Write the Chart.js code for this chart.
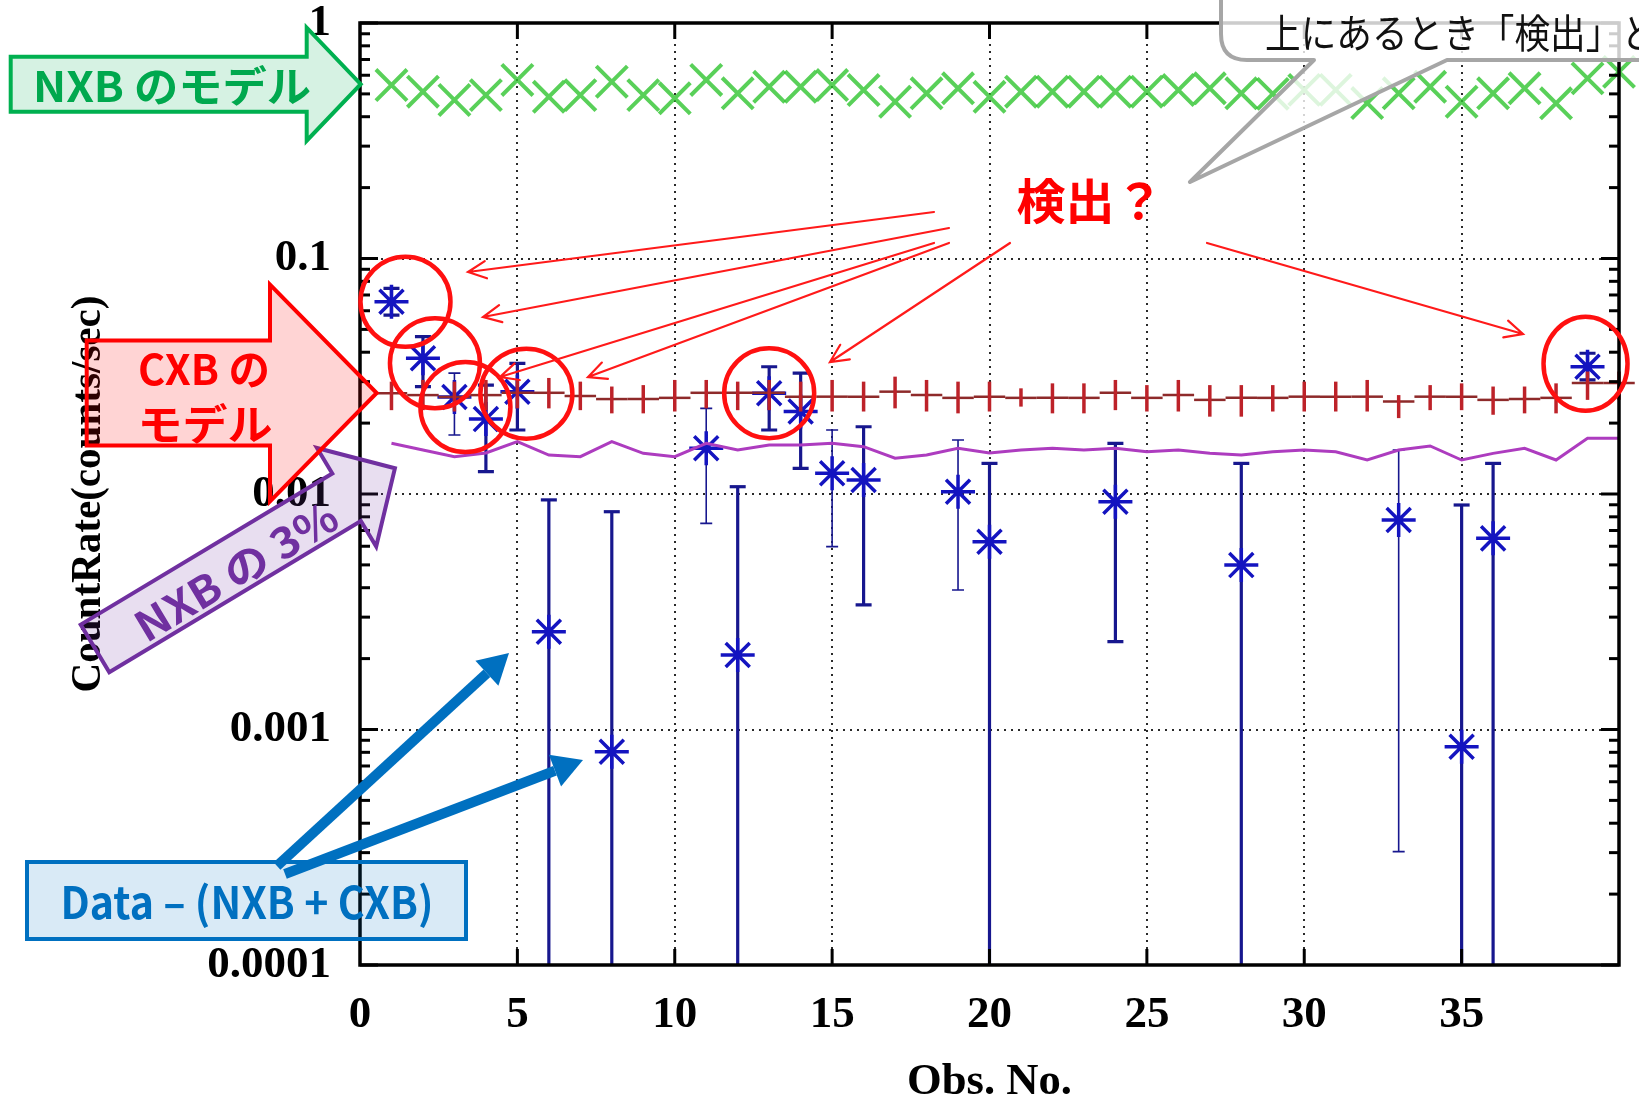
<!DOCTYPE html>
<html>
<head>
<meta charset="utf-8">
<script src="https://cdn.jsdelivr.net/npm/chart.js@4.4.1/dist/chart.umd.min.js"></script>
<style>
  html, body { margin: 0; padding: 0; background: #fff; }
  canvas { display: block; }
</style>
</head>
<body>
<canvas id="c" width="1639" height="1101"></canvas>
<script>
// ---- observation numbers ----
const obsNo = [1,2,3,4,5,6,7,8,9,10,11,12,13,14,15,16,17,18,19,20,
               21,22,23,24,25,26,27,28,29,30,31,32,33,34,35,36,37,38,39,40];

// NXB model count rate (counts/sec)
const nxbModel = [0.545,0.511,0.471,0.494,0.573,0.486,0.494,0.563,0.494,0.479,
                  0.573,0.503,0.536,0.536,0.545,0.519,0.463,0.503,0.528,0.486,
                  0.511,0.511,0.511,0.511,0.511,0.519,0.528,0.503,0.500,0.520,
                  0.520,0.457,0.503,0.536,0.463,0.503,0.528,0.456,0.582,0.620];

// CXB model count rate and its range
const cxbModel = [0.0268,0.0263,0.0258,0.0263,0.0269,0.0269,0.0261,0.0253,0.0253,0.0256,
                  0.0269,0.0269,0.0269,0.0259,0.0259,0.0259,0.0272,0.0263,0.0256,0.0259,
                  0.0256,0.0256,0.0256,0.0269,0.0256,0.0263,0.0251,0.0256,0.0256,0.0259,
                  0.0259,0.0259,0.0247,0.0259,0.0259,0.0251,0.0253,0.0256,0.0296,0.0296];
const cxbHigh  = [0.0300,0.0305,0.0300,0.0305,0.0305,0.0311,0.0300,0.0286,0.0290,0.0305,
                  0.0305,0.0300,0.0305,0.0300,0.0305,0.0300,0.0315,0.0305,0.0300,0.0300,
                  0.0281,0.0295,0.0295,0.0305,0.0290,0.0305,0.0290,0.0290,0.0290,0.0300,
                  0.0300,0.0305,0.0263,0.0290,0.0295,0.0286,0.0286,0.0295,0.0331,0.0331];
const cxbLow   = [0.0227,0.0227,0.0224,0.0227,0.0231,0.0231,0.0227,0.0220,0.0220,0.0224,
                  0.0231,0.0227,0.0227,0.0224,0.0224,0.0224,0.0231,0.0224,0.0220,0.0224,
                  0.0235,0.0220,0.0220,0.0227,0.0224,0.0224,0.0213,0.0213,0.0224,0.0224,
                  0.0224,0.0224,0.0210,0.0227,0.0227,0.0217,0.0220,0.0220,0.0251,0.0251];

// 3% of the NXB model
const nxbThreePct = [0.01642,0.01537,0.01440,0.01493,0.01668,0.01464,0.01440,0.01668,0.01488,0.01440,
                     0.01642,0.01537,0.01615,0.01615,0.01642,0.01589,0.01418,0.01464,0.01563,0.01493,
                     0.01537,0.01563,0.01537,0.01563,0.01512,0.01537,0.01488,0.01464,0.01512,0.01537,
                     0.01512,0.01394,0.01537,0.01600,0.01394,0.01488,0.01563,0.01394,0.01724,0.01724];

// Data - (NXB + CXB); null lower bound = range reaches zero
const dataObs  = [1,2,3,4,5,6,8,11,12,13,14,15,16,19,20,24,28,33,35,36,39];
const dataRate = [0.0655,0.0377,0.0258,0.0208,0.0272,0.00260,0.000805,0.01563,0.00207,0.0268,
                  0.0224,0.01224,0.01146,0.01023,0.00627,0.00927,0.00499,0.00776,0.000845,0.00648,0.0347];
const dataHigh = [0.0747,0.0466,0.0326,0.0290,0.0359,0.00944,0.00841,0.0231,0.01074,0.0347,
                  0.0326,0.0187,0.0193,0.01695,0.01349,0.01642,0.01349,0.01537,0.00898,0.01349,0.0396];
const dataLow  = [0.0575,0.0286,0.0178,0.01244,0.0187,null,null,0.0075,null,0.0187,
                  0.01285,0.00598,0.00338,0.00391,null,0.00236,null,0.000303,null,null,0.0305];

// axis ticks
const xTickValues = [0,5,10,15,20,25,30,35];
const yTickValues = [0.0001,0.001,0.01,0.1,1];
const yTickLabels = ['0.0001','0.001','0.01','0.1','1'];

const SERIF = '"Liberation Serif", "DejaVu Serif", serif';
const JP = '"Noto Sans CJK JP", "Noto Sans", sans-serif';

// observations drawn with the lighter error-bar pen
const thinBars = new Set([3, 11, 15, 19, 33]);

const errorSpecs = {
  'CXB model': {
    low: cxbLow, high: cxbHigh, xHalf: 0.5,
    hColor: '#8e2a2a', hWidth: 2.5,
    vColor: '#bd2229', width: () => 3.5, cap: null
  },
  'Data - (NXB + CXB)': {
    low: dataLow, high: dataHigh, xHalf: 0,
    vColor: '#17178e', width: o => thinBars.has(o) ? 1.6 : 3.2,
    cap: o => thinBars.has(o) ? 6 : 8
  }
};

const errorBarPlugin = {
  id: 'errorBars',
  beforeDatasetDraw(chart, args) {
    const ds = chart.data.datasets[args.index];
    const spec = errorSpecs[ds.label];
    if (!spec) return;
    const { ctx, chartArea: a, scales: { x, y } } = chart;
    ctx.save();
    ctx.beginPath();
    ctx.rect(a.left - 30, a.top, a.right - a.left + 60, a.bottom - a.top);
    ctx.clip();
    ctx.lineCap = 'butt';
    ds.data.forEach((p, i) => {
      const px = x.getPixelForValue(p.x);
      const py = y.getPixelForValue(p.y);
      if (spec.xHalf) {
        ctx.strokeStyle = spec.hColor;
        ctx.lineWidth = spec.hWidth;
        ctx.beginPath();
        ctx.moveTo(x.getPixelForValue(p.x - spec.xHalf), py);
        ctx.lineTo(x.getPixelForValue(p.x + spec.xHalf), py);
        ctx.stroke();
      }
      const lo = spec.low[i], hi = spec.high[i];
      const yTop = y.getPixelForValue(hi);
      const yBot = lo == null ? a.bottom : y.getPixelForValue(lo);
      ctx.strokeStyle = spec.vColor;
      ctx.lineWidth = spec.width(p.x);
      ctx.beginPath();
      ctx.moveTo(px, yTop);
      ctx.lineTo(px, yBot);
      ctx.stroke();
      if (spec.cap) {
        const c = spec.cap(p.x);
        ctx.beginPath();
        ctx.moveTo(px - c, yTop); ctx.lineTo(px + c, yTop);
        if (lo != null) { ctx.moveTo(px - c, yBot); ctx.lineTo(px + c, yBot); }
        ctx.stroke();
      }
    });
    ctx.restore();
  }
};

// dotted grid under the data; border and inward ticks above it
const framePlugin = {
  id: 'frame',
  beforeDatasetsDraw(chart) {
    const { ctx, chartArea: a, scales: { x, y } } = chart;
    ctx.save();
    ctx.setLineDash([2, 5]);
    ctx.lineWidth = 2;
    ctx.strokeStyle = '#2a2a2a';
    xTickValues.filter(v => v > 0).forEach(v => {
      const px = Math.round(x.getPixelForValue(v));
      ctx.beginPath(); ctx.moveTo(px, a.top); ctx.lineTo(px, a.bottom); ctx.stroke();
    });
    yTickValues.filter(v => v > yTickValues[0] && v < 1).forEach(v => {
      const py = Math.round(y.getPixelForValue(v));
      ctx.beginPath(); ctx.moveTo(a.left, py); ctx.lineTo(a.right, py); ctx.stroke();
    });
    ctx.restore();
  },
  afterDatasetsDraw(chart) {
    const { ctx, chartArea: a, scales: { x, y } } = chart;
    ctx.save();
    ctx.strokeStyle = '#000';
    ctx.lineWidth = 3;
    const seg = (x1, y1, x2, y2) => { ctx.beginPath(); ctx.moveTo(x1, y1); ctx.lineTo(x2, y2); ctx.stroke(); };
    // y ticks (major decades + minor 2..9)
    for (let d = 0; d < yTickValues.length; d++) {
      const dec = yTickValues[d];
      const py = y.getPixelForValue(dec);
      seg(a.left, py, a.left + 18, py);
      seg(a.right, py, a.right - 18, py);
      if (dec < 1) {
        for (let k = 2; k <= 9; k++) {
          const pm = y.getPixelForValue(dec * k);
          seg(a.left, pm, a.left + 10, pm);
          seg(a.right, pm, a.right - 10, pm);
        }
      }
    }
    // x ticks
    xTickValues.filter(v => v > 0).forEach(v => {
      const px = x.getPixelForValue(v);
      seg(px, a.bottom, px, a.bottom - 16);
      seg(px, a.top, px, a.top + 16);
    });
    ctx.lineWidth = 3.5;
    ctx.strokeRect(a.left, a.top, a.right - a.left, a.bottom - a.top);
    ctx.restore();
  }
};

function blockArrow(ctx, tx, ty, ang, bodyLen, headLen, bw, hw, fill, stroke) {
  ctx.save();
  ctx.translate(tx, ty);
  ctx.rotate(ang);
  ctx.beginPath();
  ctx.moveTo(0, -bw);
  ctx.lineTo(bodyLen, -bw);
  ctx.lineTo(bodyLen, -hw);
  ctx.lineTo(bodyLen + headLen, 0);
  ctx.lineTo(bodyLen, hw);
  ctx.lineTo(bodyLen, bw);
  ctx.lineTo(0, bw);
  ctx.closePath();
  ctx.fillStyle = fill;
  ctx.fill();
  ctx.lineWidth = 4;
  ctx.lineJoin = 'miter';
  ctx.strokeStyle = stroke;
  ctx.stroke();
  ctx.restore();
}

// text squeezed or stretched horizontally to a given width
function fitText(ctx, txt, cx, cy, width, font, color, angle) {
  ctx.save();
  ctx.font = font;
  ctx.fillStyle = color;
  ctx.textAlign = 'center';
  ctx.textBaseline = 'middle';
  const w = ctx.measureText(txt).width;
  ctx.translate(cx, cy);
  if (angle) ctx.rotate(angle);
  ctx.scale(width / w, 1);
  ctx.fillText(txt, 0, 0);
  ctx.restore();
}

function thinArrow(ctx, x1, y1, x2, y2, color, lw, barb) {
  const ang = Math.atan2(y2 - y1, x2 - x1);
  ctx.save();
  ctx.strokeStyle = color;
  ctx.lineWidth = lw;
  ctx.lineCap = 'round';
  ctx.beginPath();
  ctx.moveTo(x1, y1); ctx.lineTo(x2, y2);
  ctx.moveTo(x2 - barb * Math.cos(ang - 0.45), y2 - barb * Math.sin(ang - 0.45));
  ctx.lineTo(x2, y2);
  ctx.lineTo(x2 - barb * Math.cos(ang + 0.45), y2 - barb * Math.sin(ang + 0.45));
  ctx.stroke();
  ctx.restore();
}

function fatArrow(ctx, x1, y1, x2, y2, color, lw, headLen, headHalf) {
  const ang = Math.atan2(y2 - y1, x2 - x1);
  const bx = x2 - headLen * Math.cos(ang), by = y2 - headLen * Math.sin(ang);
  ctx.save();
  ctx.strokeStyle = color;
  ctx.fillStyle = color;
  ctx.lineWidth = lw;
  ctx.beginPath(); ctx.moveTo(x1, y1); ctx.lineTo(bx, by); ctx.stroke();
  ctx.beginPath();
  ctx.moveTo(x2, y2);
  ctx.lineTo(bx + headHalf * Math.sin(ang), by - headHalf * Math.cos(ang));
  ctx.lineTo(bx - headHalf * Math.sin(ang), by + headHalf * Math.cos(ang));
  ctx.closePath();
  ctx.fill();
  ctx.restore();
}

// rings around the points called out as possible detections
const detectRings = [
  { obs: 1, dx: 14, dy: 0, rx: 45, ry: 45 },
  { obs: 2, dx: 12, dy: 5, rx: 45, ry: 45 },
  { obs: 3, dx: 11, dy: 10, rx: 45, ry: 45 },
  { obs: 5, dx: 9, dy: 2, rx: 46, ry: 45 },
  { obs: 13, dx: 0, dy: 0, rx: 45, ry: 45 },
  { obs: 39, dx: -2, dy: -3, rx: 42, ry: 47 }
];

const annotationPlugin = {
  id: 'notes',
  afterDraw(chart) {
    const { ctx, chartArea: a, scales: { x, y } } = chart;

    // axis titles
    fitText(ctx, 'Obs. No.', (a.left + a.right) / 2, a.bottom + 118, 165, `bold 44px ${SERIF}`, '#000');
    fitText(ctx, 'CountRate(counts/sec)', 89, (a.top + a.bottom) / 2, 397, `bold 43px ${SERIF}`, '#000', -Math.PI / 2);

    // NXB model arrow
    blockArrow(ctx, 10.7, 84.2, 0, 296, 54, 27.5, 56.5, 'rgba(0,176,80,0.16)', '#00b050');
    ctx.save();
    ctx.font = `bold 42px ${JP}`;
    ctx.fillStyle = '#00a84e';
    ctx.textBaseline = 'middle';
    const w1 = ctx.measureText('NXB のモデル').width;
    ctx.translate(33, 86);
    ctx.scale(278 / w1, 1);
    ctx.fillText('NXB のモデル', 0, 0);
    ctx.restore();

    // NXB 3% arrow (tilted)
    blockArrow(ctx, 95, 648.4, -0.541, 293.5, 56.4, 27.75, 57.5, 'rgba(112,48,160,0.16)', '#7030a0');
    fitText(ctx, 'NXB の 3%', 236, 571, 228, `bold 42px ${JP}`, '#7030a0', -0.541);

    // CXB model arrow
    blockArrow(ctx, 86.7, 393, 0, 183.3, 106.7, 52.5, 108.3, 'rgba(255,0,0,0.17)', '#ff0000');
    fitText(ctx, 'CXB の', 204, 369, 132, `bold 42px ${JP}`, '#ff0000');
    fitText(ctx, 'モデル', 205, 424, 135, `bold 42px ${JP}`, '#ff0000');

    // detection rings
    ctx.save();
    ctx.strokeStyle = '#ff1010';
    ctx.lineWidth = 4.5;
    detectRings.forEach(r => {
      const i = dataObs.indexOf(r.obs);
      const cx = x.getPixelForValue(r.obs) + r.dx;
      const cy = y.getPixelForValue(dataRate[i]) + r.dy;
      ctx.beginPath();
      ctx.ellipse(cx, cy, r.rx, r.ry, 0, 0, Math.PI * 2);
      ctx.stroke();
    });
    ctx.restore();

    // "検出？" label and pointers
    fitText(ctx, '検出？', 1090, 201, 147, `bold 48px ${JP}`, '#ff0000');
    const red = '#ff1a1a';
    thinArrow(ctx, 934, 212, 468, 272, red, 2.2, 20);
    thinArrow(ctx, 949, 228, 483, 317, red, 2.2, 20);
    thinArrow(ctx, 934, 243, 500, 377, red, 2.2, 20);
    thinArrow(ctx, 949, 243, 588, 377, red, 2.2, 20);
    thinArrow(ctx, 1010, 243, 830, 362, red, 2.2, 20);
    thinArrow(ctx, 1207, 243, 1523, 334, red, 2.2, 20);

    // speech-bubble note at top right
    ctx.save();
    const L = 1221, B = 60, T = -40, R = 1700, rad = 26;
    ctx.beginPath();
    ctx.moveTo(L, T);
    ctx.lineTo(L, B - rad);
    ctx.quadraticCurveTo(L, B, L + rad, B);
    ctx.lineTo(1314, B);
    ctx.lineTo(1190, 182);
    ctx.lineTo(1447, B);
    ctx.lineTo(R, B);
    ctx.lineTo(R, T);
    ctx.closePath();
    ctx.fillStyle = 'rgba(255,255,255,0.8)';
    ctx.fill();
    ctx.strokeStyle = '#a6a6a6';
    ctx.lineWidth = 4;
    ctx.lineJoin = 'round';
    ctx.stroke();
    ctx.font = `40px ${JP}`;
    ctx.fillStyle = '#111';
    ctx.textBaseline = 'middle';
    const note = '上にあるとき「検出」と';
    const nw = ctx.measureText(note).width;
    ctx.translate(1265, 33);
    ctx.scale(392 / nw, 1);
    ctx.fillText(note, 0, 0);
    ctx.restore();

    // Data - (NXB + CXB) box and arrows
    ctx.save();
    ctx.fillStyle = 'rgba(0,112,192,0.15)';
    ctx.fillRect(27, 862, 439, 77);
    ctx.strokeStyle = '#0070c0';
    ctx.lineWidth = 4;
    ctx.strokeRect(27, 862, 439, 77);
    ctx.restore();
    fitText(ctx, 'Data – (NXB + CXB)', 247, 902, 373, `bold 44px ${JP}`, '#0070c0');
    fatArrow(ctx, 277, 866, 509, 653, '#0070c0', 10, 30, 17);
    fatArrow(ctx, 285, 874, 583, 760, '#0070c0', 10, 30, 17);
  }
};

// keep the plot frame where the layout padding puts it
const noScalePadding = s => {
  s.paddingTop = 0; s.paddingBottom = 0; s.paddingLeft = 0; s.paddingRight = 0;
};

const chart = new Chart(document.getElementById('c'), {
  type: 'scatter',
  data: {
    datasets: [
      {
        label: 'NXB model',
        data: obsNo.map((o, i) => ({ x: o, y: nxbModel[i] })),
        showLine: false,
        pointStyle: 'crossRot',
        pointRadius: 22,
        pointBorderWidth: 4,
        pointBorderColor: 'rgba(48,196,48,0.8)',
        pointBackgroundColor: 'rgba(0,0,0,0)',
        clip: false
      },
      {
        label: 'CXB model',
        data: obsNo.map((o, i) => ({ x: o, y: cxbModel[i] })),
        showLine: false,
        pointRadius: 0
      },
      {
        label: 'NXB 3%',
        data: obsNo.map((o, i) => ({ x: o, y: nxbThreePct[i] })),
        showLine: true,
        borderColor: '#ad3cbf',
        borderWidth: 3,
        pointRadius: 0,
        tension: 0
      },
      {
        label: 'Data - (NXB + CXB)',
        data: dataObs.map((o, i) => ({ x: o, y: dataRate[i] })),
        showLine: false,
        pointStyle: 'star',
        pointRadius: 17,
        pointBorderWidth: 3.5,
        pointBorderColor: '#1414c0',
        pointBackgroundColor: '#1414c0'
      }
    ]
  },
  options: {
    responsive: false,
    animation: false,
    devicePixelRatio: 1,
    layout: { autoPadding: false, padding: { top: 23, right: 20, left: 0, bottom: 0 } },
    plugins: { legend: { display: false }, tooltip: { enabled: false } },
    scales: {
      x: {
        type: 'linear',
        min: 0, max: 40,
        grid: { display: false },
        border: { display: false },
        ticks: {
          stepSize: 5,
          autoSkip: false,
          maxRotation: 0,
          padding: 20,
          color: '#000',
          font: { family: SERIF, size: 45, weight: 'bold', lineHeight: 1 },
          callback: v => (xTickValues.includes(v) ? String(v) : '')
        },
        afterFit: s => { s.height = 136; noScalePadding(s); }
      },
      y: {
        type: 'logarithmic',
        min: 0.0001, max: 1,
        grid: { display: false },
        border: { display: false },
        afterBuildTicks: s => { s.ticks = yTickValues.map(v => ({ value: v })); },
        ticks: {
          padding: 21,
          color: '#000',
          font: { family: SERIF, size: 45, weight: 'bold', lineHeight: 1 },
          callback: v => {
            const i = yTickValues.findIndex(t => Math.abs(Math.log10(t) - Math.log10(v)) < 1e-6);
            return i >= 0 ? yTickLabels[i] : '';
          }
        },
        afterFit: s => { s.width = 360; noScalePadding(s); }
      }
    }
  },
  plugins: [framePlugin, errorBarPlugin, annotationPlugin]
});
</script>
</body>
</html>
